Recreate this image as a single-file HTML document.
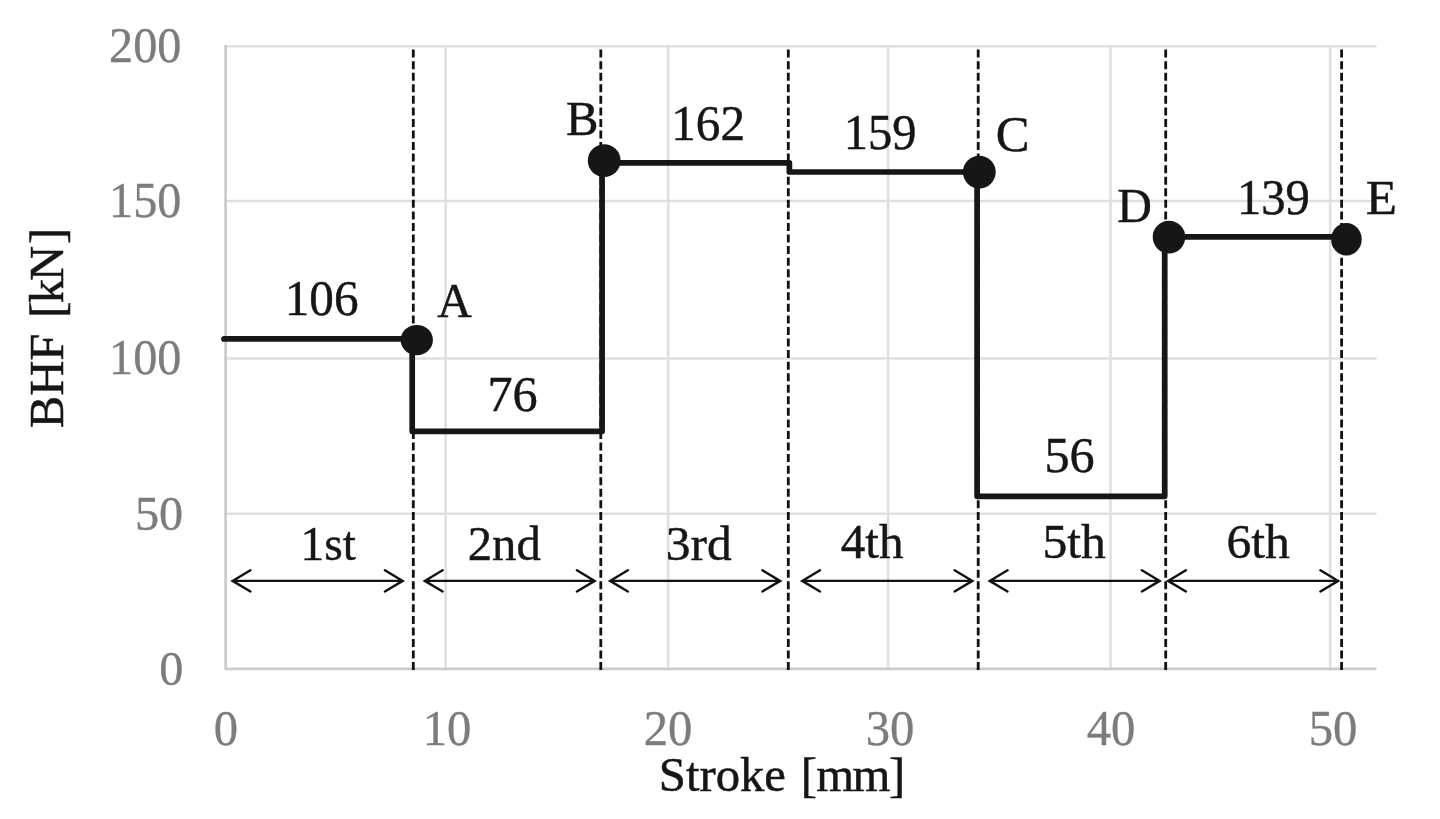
<!DOCTYPE html>
<html lang="en">
<head>
<meta charset="utf-8">
<title>BHF vs Stroke</title>
<style>
html,body{margin:0;padding:0;background:#fff;}
body{width:1440px;height:819px;overflow:hidden;}
svg{display:block;}
text{font-family:"Liberation Serif",serif;font-size:48.7px;stroke-linejoin:round;}
.tick{fill:#7c7c7c;stroke:#7c7c7c;stroke-width:0.35px;}
.lab{fill:#161616;stroke:#161616;stroke-width:0.45px;}
.axis{fill:#161616;stroke:#161616;stroke-width:0.5px;}
</style>
</head>
<body>
<svg width="1440" height="819" viewBox="0 0 1440 819">
<rect width="1440" height="819" fill="#fff"/>
<g stroke="#e0e0e0" stroke-width="2.6" fill="none">
<path d="M224.4 46.2H1376.5M224.4 201H1376.5M224.4 358.5H1376.5M224.4 513.8H1376.5"/>
<path d="M445.6 46.2V668.9M668.2 46.2V668.9M888.1 46.2V668.9M1110.5 46.2V668.9M1330.2 46.2V668.9"/>
</g>
<path d="M225.6 45V668.9H1376.5" stroke="#cbcbcb" stroke-width="2.7" stroke-linejoin="round" fill="none"/>
<g stroke="#111" stroke-width="2.8" stroke-dasharray="8 3.557" fill="none">
<path d="M413.3 49.6V670.4M600.8 49.6V670.4M788.3 49.6V670.4M978.2 49.6V670.4M1165.7 49.6V670.4M1341.6 49.6V670.4"/>
</g>
<path d="M224 338.9H412.2V431.3H602.1V162.8H789.4V172H977.1V496.3H1164.7V236.9H1345" fill="none" stroke="#161616" stroke-width="5.7" stroke-linejoin="round" stroke-linecap="round"/>
<g fill="#161616">
<ellipse cx="416.8" cy="340.1" rx="16.1" ry="15.2"/>
<ellipse cx="604.2" cy="160.6" rx="16.4" ry="16.3"/>
<ellipse cx="979.3" cy="172.1" rx="16.4" ry="16.3"/>
<ellipse cx="1169.0" cy="237.1" rx="16.3" ry="16.3"/>
<ellipse cx="1346.4" cy="239.3" rx="15.3" ry="16.3"/>
</g>
<g stroke="#111" stroke-width="2.4" fill="none" stroke-linejoin="miter" stroke-miterlimit="6" stroke-linecap="round">
<path d="M233.60 580.9H401.70M250.40 570.30L232.60 580.9L250.40 591.50M384.90 570.30L402.70 580.9L384.90 591.50"/>
<path d="M425.80 580.9H593.70M442.60 570.30L424.80 580.9L442.60 591.50M576.90 570.30L594.70 580.9L576.90 591.50"/>
<path d="M611.05 580.9H779.20M627.85 570.30L610.05 580.9L627.85 591.50M762.40 570.30L780.20 580.9L762.40 591.50"/>
<path d="M803.20 580.9H971.40M820.00 570.30L802.20 580.9L820.00 591.50M954.60 570.30L972.40 580.9L954.60 591.50"/>
<path d="M990.70 580.9H1158.70M1007.50 570.30L989.70 580.9L1007.50 591.50M1141.90 570.30L1159.70 580.9L1141.90 591.50"/>
<path d="M1169.10 580.9H1337.20M1185.90 570.30L1168.10 580.9L1185.90 591.50M1320.40 570.30L1338.20 580.9L1320.40 591.50"/>
</g>
<text class="tick" text-anchor="end" transform="translate(181.4 62) scale(0.99 1.035)">200</text>
<text class="tick" text-anchor="end" transform="translate(181.4 217) scale(0.99 1.035)">150</text>
<text class="tick" text-anchor="end" transform="translate(181.4 374) scale(0.99 1.035)">100</text>
<text class="tick" text-anchor="end" transform="translate(183.2 530.2) scale(0.99 1.01)">50</text>
<text class="tick" text-anchor="end" transform="translate(183.3 685.2) scale(0.99 1.01)">0</text>
<text class="tick" text-anchor="middle" transform="translate(226 744.8) scale(1.0 1.035)">0</text>
<text class="tick" text-anchor="middle" transform="translate(447 744.8) scale(1.0 1.035)">10</text>
<text class="tick" text-anchor="middle" transform="translate(668 744.8) scale(1.0 1.035)">20</text>
<text class="tick" text-anchor="middle" transform="translate(890 744.8) scale(1.0 1.035)">30</text>
<text class="tick" text-anchor="middle" transform="translate(1111 744.8) scale(1.0 1.035)">40</text>
<text class="tick" text-anchor="middle" transform="translate(1333 744.8) scale(1.0 1.035)">50</text>
<text class="axis" x="658.84" y="790.6">Stroke<tspan dx="2.5"> [</tspan><tspan dx="-0.6" style="letter-spacing:-1.5px">mm</tspan><tspan dx="0">]</tspan></text>
<text class="axis" transform="translate(63.1 428.34) rotate(-90)">BHF<tspan dx="3.7"> [</tspan><tspan dx="-1.6">k</tspan><tspan dx="-2.3">N</tspan><tspan dx="1.8">]</tspan></text>
<text class="lab" text-anchor="middle" transform="translate(321.6 315) scale(1.01 1.035)">106</text>
<text class="lab" text-anchor="middle" transform="translate(454.6 316.6) scale(0.985 1.0)">A</text>
<text class="lab" text-anchor="middle" transform="translate(512.5 410.6) scale(1.03 1.035)">76</text>
<text class="lab" text-anchor="middle" transform="translate(582.2 135)">B</text>
<text class="lab" text-anchor="middle" transform="translate(708.1 140) scale(1.01 1.035)">162</text>
<text class="lab" text-anchor="middle" transform="translate(880.2 148.7) scale(0.995 1.035)">159</text>
<text class="lab" text-anchor="middle" transform="translate(1012.6 150.8) scale(1.04 1.03)">C</text>
<text class="lab" text-anchor="middle" transform="translate(1134.6 221.6) scale(0.985 1.0)">D</text>
<text class="lab" text-anchor="middle" transform="translate(1273.4 214.4) scale(1.0 1.035)">139</text>
<text class="lab" text-anchor="middle" transform="translate(1381.4 214.2) scale(1.05 1.0)">E</text>
<text class="lab" text-anchor="middle" transform="translate(1069.5 471.5) scale(1.03 1.035)">56</text>
<text class="lab" text-anchor="middle" transform="translate(328.2 559.6) scale(0.975 1.0)">1st</text>
<text class="lab" text-anchor="middle" transform="translate(504.3 559.6) scale(1.0 0.98)">2nd</text>
<text class="lab" text-anchor="middle" transform="translate(698.7 559.6) scale(1.015 0.98)">3rd</text>
<text class="lab" text-anchor="middle" transform="translate(872.1 558) scale(1.01 1.0)">4th</text>
<text class="lab" text-anchor="middle" transform="translate(1074.2 558) scale(1.02 1.0)">5th</text>
<text class="lab" text-anchor="middle" transform="translate(1258.2 558.3) scale(1.02 1.0)">6th</text>
</svg>
</body>
</html>
